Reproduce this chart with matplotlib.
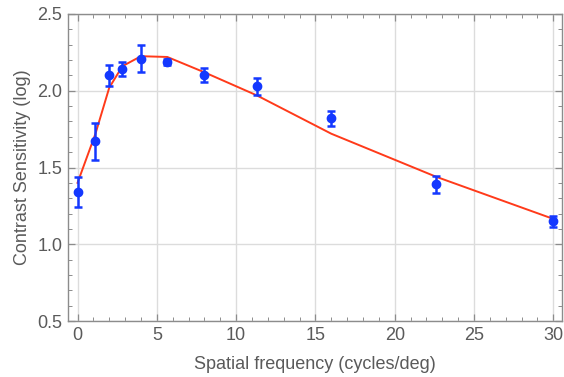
import matplotlib
matplotlib.use('Agg')
import matplotlib.pyplot as plt
from matplotlib.ticker import MultipleLocator

# measured data (spatial frequency vs log contrast sensitivity)
freq = [0, 1.13, 2, 2.83, 4, 5.66, 8, 11.3, 16, 22.6, 30]
sens = [1.34, 1.67, 2.10, 2.14, 2.21, 2.19, 2.10, 2.03, 1.82, 1.39, 1.15]
err = [0.10, 0.12, 0.07, 0.045, 0.085, 0.02, 0.045, 0.055, 0.05, 0.055, 0.035]

# fitted curve
fit_x = [0, 1.13, 2, 2.83, 4, 5.66, 8, 11.3, 16, 22.6, 30]
fit_y = [1.40, 1.72, 2.02, 2.16, 2.225, 2.22, 2.12, 1.97, 1.72, 1.44, 1.165]

plt.rcParams['font.family'] = ['Liberation Sans', 'DejaVu Sans']
txt = '#5a5a5a'
frame = '#8c8c8c'

fig = plt.figure(figsize=(5.64, 3.77), dpi=100)
ax = fig.add_axes([0.1206, 0.1485, 0.876, 0.8144])

ax.plot(fit_x, fit_y, color='#ff3a1a', lw=1.4, zorder=3)
ax.errorbar(freq, sens, yerr=err, fmt='o', color='#1438ff', ms=6,
            elinewidth=1.8, capsize=3.0, capthick=1.8, zorder=4)

ax.set_xlim(-0.6, 30.55)
ax.set_ylim(0.5, 2.5)
ax.xaxis.set_major_locator(MultipleLocator(5))
ax.xaxis.set_minor_locator(MultipleLocator(1))
ax.yaxis.set_major_locator(MultipleLocator(0.5))
ax.yaxis.set_minor_locator(MultipleLocator(0.1))
ax.yaxis.set_major_formatter(plt.FuncFormatter(lambda v, p: f'{v:.1f}'))

ax.grid(True, which='major', color='#dcdcdc', lw=1.0, zorder=0)
ax.set_axisbelow(True)
for s in ax.spines.values():
    s.set_color(frame)
    s.set_linewidth(1.0)

ax.tick_params(which='both', direction='in', top=True, right=True,
               color=frame, labelcolor=txt, labelsize=13)
ax.tick_params(which='major', length=5, width=0.9)
ax.tick_params(which='minor', length=3, width=0.7)
ax.tick_params(axis='x', pad=4)
ax.tick_params(axis='y', pad=4)

ax.set_xlabel('Spatial frequency (cycles/deg)', color=txt, fontsize=13, labelpad=9)
ax.set_ylabel('Contrast Sensitivity (log)', color=txt, fontsize=13, labelpad=5)

fig.savefig('out.png', dpi=100)
